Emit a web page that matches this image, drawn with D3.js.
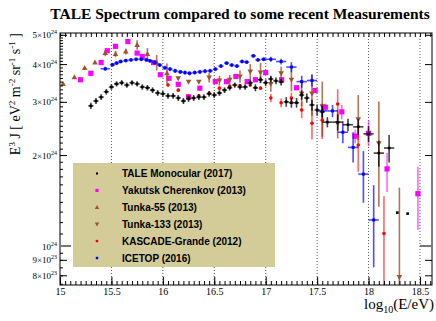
<!DOCTYPE html>
<html>
<head>
<meta charset="UTF-8">
<script src="https://d3js.org/d3.v7.min.js"></script>
<style>
  body { margin: 0; background: #fff; }
  svg text { font-family: "Liberation Serif", "Times New Roman", serif; }
</style>
</head>
<body>
<svg id="chart" width="436" height="321"></svg>
<script>
// ---- data (flux in units of 1e24 eV^2 m^-2 sr^-1 s^-1) ----
const taleE = [15.30,15.35,15.40,15.45,15.50,15.55,15.60,15.65,15.70,15.75,15.80,15.85,15.90,15.95,16.00,16.05,16.10,16.15,16.20,16.25,16.30,16.35,16.40,16.45,16.50,16.55,16.60,16.65,16.70,16.75,16.80,16.85,16.90,16.95,17.00,17.05,17.10,17.15,17.20,17.25,17.30,17.35,17.40,17.45,17.50,17.55,17.6,17.7,17.8,17.9,18.0,18.1,18.2,18.28,18.38];
const taleJ = [2.91,3.02,3.11,3.24,3.36,3.44,3.47,3.41,3.47,3.44,3.36,3.34,3.28,3.21,3.19,3.14,3.14,3.09,3.02,3.07,3.09,3.11,3.11,3.19,3.16,3.21,3.28,3.34,3.41,3.36,3.36,3.47,3.34,3.55,3.47,3.57,3.52,3.49,3.00,2.98,2.98,3.16,3.09,2.93,2.82,2.78,2.57,2.57,2.52,2.48,2.35,2.03,2.11,1.29,1.28];
const taleErr = [0.07,0.07,0.07,0.07,0.07,0.07,0.07,0.07,0.07,0.07,0.07,0.07,0.07,0.07,0.07,0.07,0.07,0.07,0.07,0.07,0.07,0.07,0.07,0.07,0.07,0.07,0.07,0.07,0.07,0.07,0.07,0.09,0.09,0.09,0.09,0.09,0.09,0.09,0.11,0.11,0.11,0.11,0.11,0.12,0.12,0.12,0.10,0.16,0.12,0.15,0.14,0.20,0.22,0,0];
const taleXErr = [0.025,0.025,0.025,0.025,0.025,0.025,0.025,0.025,0.025,0.025,0.025,0.025,0.025,0.025,0.025,0.025,0.025,0.025,0.025,0.025,0.025,0.025,0.025,0.025,0.025,0.025,0.025,0.025,0.025,0.025,0.025,0.025,0.025,0.025,0.025,0.025,0.025,0.025,0.025,0.025,0.025,0.025,0.025,0.025,0.025,0.025,0.05,0.05,0.05,0.05,0.05,0.05,0.05,0,0];

const yakE = [15.20,15.30,15.40,15.46,15.54,15.66,15.75,15.80,15.91,15.975,16.06,16.15,16.25,16.36,16.51,16.62,16.71,16.82,16.90,17.00,17.155,17.30,17.48,17.58,17.74,17.87,18.00,18.18,18.48];
const yakJ = [3.55,3.73,4.05,4.43,4.58,4.75,4.35,4.24,4.05,3.69,3.59,3.43,3.12,3.33,3.50,3.50,3.64,3.50,3.55,3.75,3.55,3.34,3.27,2.88,2.78,2.31,2.36,1.80,1.49];
const yakLo = [0.04,0.04,0.04,0.04,0.04,0.04,0.04,0.04,0.04,0.04,0.04,0.04,0.04,0.04,0.04,0.04,0.04,0.04,0.04,0.04,0.04,0.04,0.06,0.08,0.15,0.12,0.22,0.29,0.36];
const yakHi = [0.04,0.04,0.04,0.04,0.04,0.04,0.04,0.04,0.04,0.04,0.04,0.04,0.04,0.04,0.04,0.04,0.04,0.04,0.04,0.04,0.04,0.04,0.06,0.08,0.15,0.12,0.25,0.23,0.34];

const t55E = [15.03,15.14,15.24,15.34,15.44,15.54,15.64,15.75,15.85,15.94,16.04];
const t55J = [3.44,3.62,3.88,4.05,4.35,4.32,4.40,4.63,4.32,4.05,3.73];
const t55Err = [0.03,0.03,0.03,0.03,0.10,0.10,0.10,0.17,0.20,0.24,0.29];

const t133E = [16.15,16.25,16.35,16.45,16.55,16.65,16.75,16.85,16.95,17.05,17.15,17.25,17.35,17.45,17.55,17.7,17.9,18.1,18.3];
const t133J = [3.59,3.50,3.50,3.61,3.53,3.55,3.64,3.78,3.75,3.44,3.73,3.55,3.20,3.20,2.90,2.55,2.63,2.19,0.79];
const t133Lo = [0.04,0.04,0.04,0.13,0.13,0.13,0.17,0.22,0.29,0.20,0.20,0.30,0.30,0.50,0.60,0.28,0.39,0.84,0.50];
const t133Hi = [0.04,0.04,0.04,0.13,0.13,0.13,0.17,0.22,0.29,0.20,0.20,0.30,0.30,0.50,0.60,0.28,0.53,0.82,0.77];

const kgE = [16.05,16.15,16.25,16.35,16.45,16.55,16.65,16.75,16.85,16.95,17.05,17.15,17.25,17.35,17.45,17.55,17.7,17.9,18.15];
const kgJ = [3.41,3.28,3.12,3.14,3.20,3.33,3.38,3.40,3.41,3.33,3.09,2.98,3.09,2.82,2.55,2.61,2.95,2.16,1.10];
const kgLo = [0.04,0.04,0.04,0.04,0.04,0.04,0.04,0.04,0.04,0.04,0.10,0.10,0.13,0.17,0.30,0.35,0.35,0.40,0.60];
const kgHi = [0.04,0.04,0.04,0.04,0.04,0.04,0.04,0.04,0.04,0.04,0.10,0.10,0.13,0.17,0.30,0.35,0.35,0.40,0.36];

const icE = [15.44,15.51,15.55,15.59,15.64,15.69,15.74,15.79,15.84,15.875,15.92,15.97,16.02,16.07,16.12,16.17,16.215,16.26,16.31,16.36,16.41,16.46,16.51,16.565,16.62,16.67,16.72,16.77,16.815,16.88,16.925,16.98,17.05,17.15,17.25,17.35,17.45,17.55,17.65,17.75,17.85,17.95,18.05];
const icJ = [3.86,3.98,4.03,4.08,4.11,4.13,4.15,4.15,4.13,4.10,4.05,3.97,3.89,3.85,3.80,3.77,3.75,3.73,3.75,3.77,3.79,3.80,3.85,3.94,4.03,3.97,3.94,4.08,4.06,4.26,4.13,4.15,4.15,4.08,3.91,3.50,3.53,2.80,2.80,2.38,2.12,1.73,1.22];
const icLo = [0.06,0.06,0.06,0.06,0.06,0.06,0.06,0.06,0.06,0.06,0.06,0.06,0.06,0.06,0.06,0.06,0.06,0.06,0.06,0.06,0.06,0.06,0.06,0.06,0.06,0.06,0.06,0.06,0.06,0.06,0.06,0.06,0.08,0.09,0.15,0.16,0.16,0.13,0.13,0.19,0.23,0.34,0.37];
const icHi = [0.06,0.06,0.06,0.06,0.06,0.06,0.06,0.06,0.06,0.06,0.06,0.06,0.06,0.06,0.06,0.06,0.06,0.06,0.06,0.06,0.06,0.06,0.06,0.06,0.06,0.06,0.06,0.06,0.06,0.06,0.06,0.06,0.08,0.09,0.15,0.16,0.16,0.13,0.13,0.21,0.26,0.33,0.37];
const icXErr = [0.045,0.025,0.025,0.025,0.025,0.025,0.025,0.025,0.025,0.025,0.025,0.025,0.025,0.025,0.025,0.025,0.025,0.025,0.025,0.025,0.025,0.025,0.025,0.025,0.025,0.025,0.025,0.025,0.025,0.025,0.025,0.025,0.05,0.05,0.05,0.05,0.05,0.05,0.05,0.05,0.05,0.05,0.05];

const xTicks = [15, 15.5, 16, 16.5, 17, 17.5, 18, 18.5];
const xTickLabels = ["15", "15.5", "16", "16.5", "17", "17.5", "18", "18.5"];
const yTicks = [0.8, 0.9, 1, 2, 3, 4, 5];
const yTickMant = ["8", "9", "", "2", "3", "4", "5"];
const yTickExp = ["23", "23", "24", "24", "24", "24", "24"];

const legendNames = ["TALE Monocular (2017)", "Yakutsk Cherenkov (2013)", "Tunka-55 (2013)", "Tunka-133 (2013)", "KASCADE-Grande (2012)", "ICETOP (2016)"];
const legendColors = ["#000000", "#ff00ff", "#a0522d", "#a0522d", "#ff0000", "#0000ff"];

// ---- layout ----
const pL = 60, pR = 432, pT = 33, pB = 285;
const svg = d3.select("#chart");

const x = d3.scaleLinear().domain([15, 18.617]).range([pL, pR]);
const y = d3.scaleLog().domain([0.743, 5.07]).range([pB, pT]);

svg.append("defs").append("clipPath").attr("id", "plotclip")
  .append("rect").attr("x", pL).attr("y", pT).attr("width", pR - pL).attr("height", pB - pT);

// title
svg.append("text").attr("x", 240).attr("y", 19).attr("text-anchor", "middle")
  .style("font-size", "15.5px").style("font-weight", "bold")
  .text("TALE Spectrum compared to some recent Measurements");

// grid
svg.append("g").selectAll("line").data(xTicks.slice(1)).enter().append("line")
  .attr("x1", d => x(d)).attr("x2", d => x(d)).attr("y1", pT).attr("y2", pB)
  .attr("stroke", "#555").attr("stroke-width", 1).attr("stroke-dasharray", "1,2");

// legend box
const lg = svg.append("g");
lg.append("rect").attr("x", 73).attr("y", 163).attr("width", 202).attr("height", 104)
  .attr("fill", "#d3cc98");
legendNames.forEach((n, i) => {
  lg.append("text").attr("x", 122).attr("y", 177 + i * 16.9)
    .style("font-family", "'Liberation Sans', Arial, sans-serif")
    .style("font-size", "10px").style("font-weight", "bold").text(n);
});

const plot = svg.append("g").attr("clip-path", "url(#plotclip)");

function drawSeries(E, J, lo, hi, xe, color, barOpacity, marker) {
  const g = plot.append("g");
  const idx = d3.range(E.length);
  g.selectAll(".v").data(idx).enter().append("line")
    .attr("x1", i => x(E[i])).attr("x2", i => x(E[i]))
    .attr("y1", i => y(Math.max(J[i] - lo[i], 0.5))).attr("y2", i => y(J[i] + hi[i]))
    .attr("stroke", color).attr("stroke-opacity", barOpacity).attr("stroke-width", 1.6);
  if (xe) {
    g.selectAll(".h").data(idx.filter(i => xe[i] > 0)).enter().append("line")
      .attr("x1", i => x(E[i] - xe[i])).attr("x2", i => x(E[i] + xe[i]))
      .attr("y1", i => y(J[i])).attr("y2", i => y(J[i]))
      .attr("stroke", color).attr("stroke-opacity", barOpacity).attr("stroke-width", 1.6);
  }
  g.selectAll(".m").data(idx).enter().append("path")
    .attr("transform", i => `translate(${x(E[i])},${y(J[i])})`)
    .attr("d", marker).attr("fill", color);
}

const sq = s => `M${-s},${-s}H${s}V${s}H${-s}Z`;
const triUp = "M0,-3L2.8,2L-2.8,2Z";
const triDn = "M0,3L2.8,-2L-2.8,-2Z";
const dot = "M-1.8,0A1.8,1.8 0 1,0 1.8,0A1.8,1.8 0 1,0 -1.8,0Z";

drawSeries(yakE, yakJ, yakLo, yakHi, null, "#ff00ff", 0.6, sq(2.6));
drawSeries(t55E, t55J, t55Err, t55Err, null, "#a0522d", 0.8, triUp);
drawSeries(t133E, t133J, t133Lo, t133Hi, null, "#a0522d", 0.8, triDn);
drawSeries(kgE, kgJ, kgLo, kgHi, null, "#ff0000", 0.6, dot);
drawSeries(icE, icJ, icLo, icHi, icXErr, "#0000ff", 0.7, sq(1.5));
drawSeries(taleE, taleJ, taleErr, taleErr, taleXErr, "#000000", 0.75, sq(1.3));

// legend markers
const legMarkers = [sq(1.3), sq(2), triUp, triDn, dot, sq(1.5)];
legMarkers.forEach((m, i) => {
  lg.append("path").attr("d", m).attr("fill", legendColors[i])
    .attr("transform", `translate(97,${173.5 + i * 16.9}) scale(0.8)`);
});

// frame
svg.append("rect").attr("x", pL).attr("y", pT).attr("width", pR - pL).attr("height", pB - pT)
  .attr("fill", "none").attr("stroke", "#000").attr("stroke-width", 1);

// x axes (ticks inward)
const xMinor = d3.range(15, 18.62, 0.05);
svg.append("g").attr("transform", `translate(0,${pB})`)
  .call(d3.axisBottom(x).tickValues(xMinor).tickSize(-4).tickFormat(""))
  .call(g => g.select(".domain").remove());
svg.append("g").attr("transform", `translate(0,${pT})`)
  .call(d3.axisTop(x).tickValues(xMinor).tickSize(-4).tickFormat(""))
  .call(g => g.select(".domain").remove());
svg.append("g").attr("transform", `translate(0,${pB})`)
  .call(d3.axisBottom(x).tickValues(xTicks).tickSize(-8).tickPadding(3).tickFormat((d, i) => xTickLabels[i]))
  .call(g => g.select(".domain").remove())
  .call(g => g.selectAll("text").style("font-size", "10px").style("font-family", "'Liberation Serif', serif"));

// y axes
const yMinor = d3.range(0.75, 1, 0.05).concat(d3.range(1, 5.01, 0.1));
svg.append("g").attr("transform", `translate(${pL},0)`)
  .call(d3.axisLeft(y).tickValues(yMinor).tickSize(-3).tickFormat(""))
  .call(g => g.select(".domain").remove());
svg.append("g").attr("transform", `translate(${pL},0)`)
  .call(d3.axisLeft(y).tickValues(yTicks).tickSize(-7).tickFormat(""))
  .call(g => g.select(".domain").remove());
svg.append("g").attr("transform", `translate(${pR},0)`)
  .call(d3.axisRight(y).tickValues(yTicks).tickSize(-7).tickFormat(""))
  .call(g => g.select(".domain").remove());
// long gray tick at 10^24
[pL, pR].forEach((px, k) => {
  svg.append("line").attr("x1", px).attr("x2", k ? px - 12 : px + 11)
    .attr("y1", y(1)).attr("y2", y(1)).attr("stroke", "#777").attr("stroke-width", 2);
});

// y tick labels
yTicks.forEach((v, i) => {
  const t = svg.append("text").attr("x", 57).attr("y", y(v) + 3.5).attr("text-anchor", "end")
    .style("font-size", "9px");
  t.append("tspan").text(yTickMant[i] ? yTickMant[i] + "×10" : "10");
  t.append("tspan").attr("dy", -4).style("font-size", "6px").text(yTickExp[i]);
});

// axis titles
const xt = svg.append("text").attr("x", 434).attr("y", 309).attr("text-anchor", "end").style("font-size", "15px");
xt.append("tspan").text("log");
xt.append("tspan").attr("dy", 4).style("font-size", "10px").text("10");
xt.append("tspan").attr("dy", -4).text("(E/eV)");

const yt = svg.append("text").attr("transform", "translate(20,33) rotate(-90)").attr("text-anchor", "end")
  .style("font-size", "14px");
yt.append("tspan").text("E");
yt.append("tspan").attr("dy", -5).style("font-size", "9px").text("3");
yt.append("tspan").attr("dy", 5).text(" J [ eV");
yt.append("tspan").attr("dy", -5).style("font-size", "9px").text("2");
yt.append("tspan").attr("dy", 5).text(" m");
yt.append("tspan").attr("dy", -5).style("font-size", "9px").text("-2");
yt.append("tspan").attr("dy", 5).text(" sr");
yt.append("tspan").attr("dy", -5).style("font-size", "9px").text("-1");
yt.append("tspan").attr("dy", 5).text(" s");
yt.append("tspan").attr("dy", -5).style("font-size", "9px").text("-1");
yt.append("tspan").attr("dy", 5).text(" ]");
</script>
</body>
</html>
